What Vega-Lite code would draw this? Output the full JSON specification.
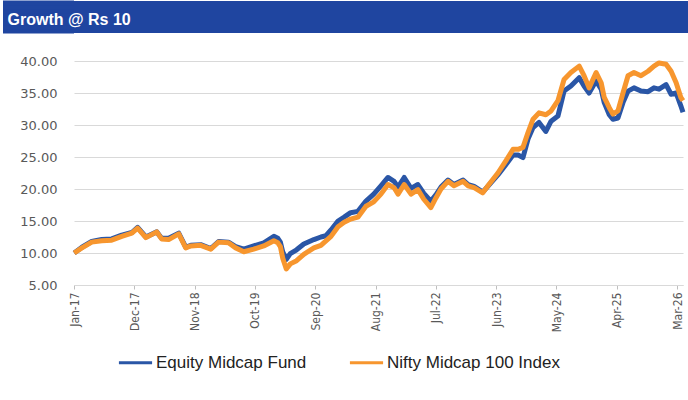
{
  "$schema": "https://vega.github.io/schema/vega-lite/v6.json",
  "padding": {"left": 0, "top": 0, "right": 0, "bottom": 0},
  "autosize": {"type": "pad"},
  "background": "white",
  "config": {"view": {"stroke": null}, "font": "Liberation Sans"},
  "spacing": 21,
  "vconcat": [
    {
      "width": 615,
      "height": 32,
      "view": {"fill": "#1F45A0", "stroke": null},
      "title": {"text": "Growth @ Rs 10", "anchor": "start", "frame": "bounds", "orient": "bottom", "offset": -9, "dx": 7, "color": "white", "font": "Liberation Sans", "fontSize": 16, "fontWeight": "bold", "baseline": "alphabetic"},
      "data": {"values": []},
      "mark": "point",
      "encoding": {
        "y": {
          "datum": 0, "type": "quantitative",
          "scale": {"domain": [-1, 1], "nice": false, "zero": false},
          "axis": {"title": null, "values": [0.875, 0.625, 0.375, 0.125, -0.125, -0.375, -0.625, -0.875], "labels": false, "domain": false, "grid": false, "tickSize": 71, "tickWidth": 5, "tickColor": "#1F45A0", "translate": 0, "minExtent": 73.5, "maxExtent": 73.5}
        }
      }
    },
    {
      "width": 609,
      "height": 224,
      "data": {"values": [
        {"date": "2017-01-02", "series": "Equity Midcap Fund", "value": 10.0},
        {"date": "2017-02-14", "series": "Equity Midcap Fund", "value": 10.9},
        {"date": "2017-04-09", "series": "Equity Midcap Fund", "value": 11.8},
        {"date": "2017-06-04", "series": "Equity Midcap Fund", "value": 12.1},
        {"date": "2017-07-29", "series": "Equity Midcap Fund", "value": 12.2},
        {"date": "2017-09-23", "series": "Equity Midcap Fund", "value": 12.8},
        {"date": "2017-11-18", "series": "Equity Midcap Fund", "value": 13.2},
        {"date": "2017-12-20", "series": "Equity Midcap Fund", "value": 14.0},
        {"date": "2018-02-04", "series": "Equity Midcap Fund", "value": 12.5},
        {"date": "2018-04-05", "series": "Equity Midcap Fund", "value": 13.3},
        {"date": "2018-05-02", "series": "Equity Midcap Fund", "value": 12.3},
        {"date": "2018-06-10", "series": "Equity Midcap Fund", "value": 12.3},
        {"date": "2018-08-05", "series": "Equity Midcap Fund", "value": 13.1},
        {"date": "2018-09-13", "series": "Equity Midcap Fund", "value": 10.9},
        {"date": "2018-10-11", "series": "Equity Midcap Fund", "value": 11.2},
        {"date": "2018-12-05", "series": "Equity Midcap Fund", "value": 11.3},
        {"date": "2019-01-30", "series": "Equity Midcap Fund", "value": 10.7},
        {"date": "2019-03-14", "series": "Equity Midcap Fund", "value": 11.8},
        {"date": "2019-05-08", "series": "Equity Midcap Fund", "value": 11.7},
        {"date": "2019-06-17", "series": "Equity Midcap Fund", "value": 11.0},
        {"date": "2019-08-01", "series": "Equity Midcap Fund", "value": 10.6},
        {"date": "2019-09-25", "series": "Equity Midcap Fund", "value": 11.1},
        {"date": "2019-11-20", "series": "Equity Midcap Fund", "value": 11.6},
        {"date": "2020-01-15", "series": "Equity Midcap Fund", "value": 12.6},
        {"date": "2020-02-06", "series": "Equity Midcap Fund", "value": 12.3},
        {"date": "2020-02-20", "series": "Equity Midcap Fund", "value": 11.7},
        {"date": "2020-03-04", "series": "Equity Midcap Fund", "value": 10.2},
        {"date": "2020-03-24", "series": "Equity Midcap Fund", "value": 9.0},
        {"date": "2020-04-15", "series": "Equity Midcap Fund", "value": 9.9},
        {"date": "2020-05-20", "series": "Equity Midcap Fund", "value": 10.5},
        {"date": "2020-06-29", "series": "Equity Midcap Fund", "value": 11.4},
        {"date": "2020-08-24", "series": "Equity Midcap Fund", "value": 12.1},
        {"date": "2020-10-02", "series": "Equity Midcap Fund", "value": 12.5},
        {"date": "2020-10-30", "series": "Equity Midcap Fund", "value": 12.7},
        {"date": "2020-11-27", "series": "Equity Midcap Fund", "value": 13.6},
        {"date": "2021-01-05", "series": "Equity Midcap Fund", "value": 15.0},
        {"date": "2021-02-08", "series": "Equity Midcap Fund", "value": 15.6},
        {"date": "2021-03-16", "series": "Equity Midcap Fund", "value": 16.3},
        {"date": "2021-04-25", "series": "Equity Midcap Fund", "value": 16.5},
        {"date": "2021-06-09", "series": "Equity Midcap Fund", "value": 18.1},
        {"date": "2021-07-22", "series": "Equity Midcap Fund", "value": 19.2},
        {"date": "2021-08-31", "series": "Equity Midcap Fund", "value": 20.5},
        {"date": "2021-10-09", "series": "Equity Midcap Fund", "value": 21.8},
        {"date": "2021-11-12", "series": "Equity Midcap Fund", "value": 21.2},
        {"date": "2021-12-04", "series": "Equity Midcap Fund", "value": 20.3},
        {"date": "2022-01-07", "series": "Equity Midcap Fund", "value": 21.8},
        {"date": "2022-02-14", "series": "Equity Midcap Fund", "value": 20.1},
        {"date": "2022-03-24", "series": "Equity Midcap Fund", "value": 20.7},
        {"date": "2022-04-26", "series": "Equity Midcap Fund", "value": 19.3},
        {"date": "2022-06-04", "series": "Equity Midcap Fund", "value": 18.1},
        {"date": "2022-07-02", "series": "Equity Midcap Fund", "value": 19.1},
        {"date": "2022-07-30", "series": "Equity Midcap Fund", "value": 20.3},
        {"date": "2022-09-07", "series": "Equity Midcap Fund", "value": 21.4},
        {"date": "2022-10-10", "series": "Equity Midcap Fund", "value": 20.7},
        {"date": "2022-11-30", "series": "Equity Midcap Fund", "value": 21.4},
        {"date": "2022-12-28", "series": "Equity Midcap Fund", "value": 20.7},
        {"date": "2023-01-30", "series": "Equity Midcap Fund", "value": 20.4},
        {"date": "2023-03-19", "series": "Equity Midcap Fund", "value": 19.5},
        {"date": "2023-04-22", "series": "Equity Midcap Fund", "value": 20.6},
        {"date": "2023-06-11", "series": "Equity Midcap Fund", "value": 22.2},
        {"date": "2023-07-25", "series": "Equity Midcap Fund", "value": 23.8},
        {"date": "2023-09-03", "series": "Equity Midcap Fund", "value": 25.3},
        {"date": "2023-10-01", "series": "Equity Midcap Fund", "value": 25.3},
        {"date": "2023-10-28", "series": "Equity Midcap Fund", "value": 24.9},
        {"date": "2023-11-25", "series": "Equity Midcap Fund", "value": 27.8},
        {"date": "2023-12-23", "series": "Equity Midcap Fund", "value": 29.6},
        {"date": "2024-01-25", "series": "Equity Midcap Fund", "value": 30.4},
        {"date": "2024-03-03", "series": "Equity Midcap Fund", "value": 29.0},
        {"date": "2024-04-01", "series": "Equity Midcap Fund", "value": 30.6},
        {"date": "2024-05-09", "series": "Equity Midcap Fund", "value": 31.4},
        {"date": "2024-06-12", "series": "Equity Midcap Fund", "value": 35.3},
        {"date": "2024-07-20", "series": "Equity Midcap Fund", "value": 36.1},
        {"date": "2024-09-04", "series": "Equity Midcap Fund", "value": 37.4},
        {"date": "2024-10-01", "series": "Equity Midcap Fund", "value": 36.1},
        {"date": "2024-10-29", "series": "Equity Midcap Fund", "value": 35.0},
        {"date": "2024-12-07", "series": "Equity Midcap Fund", "value": 36.9},
        {"date": "2025-01-04", "series": "Equity Midcap Fund", "value": 35.6},
        {"date": "2025-01-21", "series": "Equity Midcap Fund", "value": 33.5},
        {"date": "2025-02-18", "series": "Equity Midcap Fund", "value": 31.6},
        {"date": "2025-03-10", "series": "Equity Midcap Fund", "value": 30.9},
        {"date": "2025-04-07", "series": "Equity Midcap Fund", "value": 31.1},
        {"date": "2025-05-05", "series": "Equity Midcap Fund", "value": 33.5},
        {"date": "2025-06-02", "series": "Equity Midcap Fund", "value": 35.3},
        {"date": "2025-07-05", "series": "Equity Midcap Fund", "value": 35.8},
        {"date": "2025-08-13", "series": "Equity Midcap Fund", "value": 35.3},
        {"date": "2025-09-21", "series": "Equity Midcap Fund", "value": 35.2},
        {"date": "2025-10-24", "series": "Equity Midcap Fund", "value": 35.8},
        {"date": "2025-11-21", "series": "Equity Midcap Fund", "value": 35.6},
        {"date": "2025-12-30", "series": "Equity Midcap Fund", "value": 36.3},
        {"date": "2026-01-27", "series": "Equity Midcap Fund", "value": 34.8},
        {"date": "2026-02-24", "series": "Equity Midcap Fund", "value": 35.0},
        {"date": "2026-03-22", "series": "Equity Midcap Fund", "value": 33.0},
        {"date": "2026-04-03", "series": "Equity Midcap Fund", "value": 32.0},
        {"date": "2017-01-02", "series": "Nifty Midcap 100 Index", "value": 10.0},
        {"date": "2017-02-14", "series": "Nifty Midcap 100 Index", "value": 10.8},
        {"date": "2017-04-09", "series": "Nifty Midcap 100 Index", "value": 11.7},
        {"date": "2017-06-04", "series": "Nifty Midcap 100 Index", "value": 11.9},
        {"date": "2017-07-29", "series": "Nifty Midcap 100 Index", "value": 12.0},
        {"date": "2017-09-23", "series": "Nifty Midcap 100 Index", "value": 12.6},
        {"date": "2017-11-18", "series": "Nifty Midcap 100 Index", "value": 13.1},
        {"date": "2017-12-20", "series": "Nifty Midcap 100 Index", "value": 13.9},
        {"date": "2018-02-04", "series": "Nifty Midcap 100 Index", "value": 12.4},
        {"date": "2018-04-05", "series": "Nifty Midcap 100 Index", "value": 13.3},
        {"date": "2018-05-02", "series": "Nifty Midcap 100 Index", "value": 12.2},
        {"date": "2018-06-10", "series": "Nifty Midcap 100 Index", "value": 12.1},
        {"date": "2018-08-05", "series": "Nifty Midcap 100 Index", "value": 13.0},
        {"date": "2018-09-13", "series": "Nifty Midcap 100 Index", "value": 10.8},
        {"date": "2018-10-11", "series": "Nifty Midcap 100 Index", "value": 11.1},
        {"date": "2018-12-05", "series": "Nifty Midcap 100 Index", "value": 11.2},
        {"date": "2019-01-30", "series": "Nifty Midcap 100 Index", "value": 10.6},
        {"date": "2019-03-14", "series": "Nifty Midcap 100 Index", "value": 11.7},
        {"date": "2019-05-08", "series": "Nifty Midcap 100 Index", "value": 11.6},
        {"date": "2019-06-17", "series": "Nifty Midcap 100 Index", "value": 10.8},
        {"date": "2019-08-01", "series": "Nifty Midcap 100 Index", "value": 10.2},
        {"date": "2019-09-25", "series": "Nifty Midcap 100 Index", "value": 10.6},
        {"date": "2019-11-20", "series": "Nifty Midcap 100 Index", "value": 11.1},
        {"date": "2020-01-15", "series": "Nifty Midcap 100 Index", "value": 11.9},
        {"date": "2020-02-06", "series": "Nifty Midcap 100 Index", "value": 11.6},
        {"date": "2020-02-20", "series": "Nifty Midcap 100 Index", "value": 11.0},
        {"date": "2020-03-04", "series": "Nifty Midcap 100 Index", "value": 9.2},
        {"date": "2020-03-24", "series": "Nifty Midcap 100 Index", "value": 7.5},
        {"date": "2020-04-15", "series": "Nifty Midcap 100 Index", "value": 8.3},
        {"date": "2020-05-20", "series": "Nifty Midcap 100 Index", "value": 8.8},
        {"date": "2020-06-29", "series": "Nifty Midcap 100 Index", "value": 9.8},
        {"date": "2020-08-24", "series": "Nifty Midcap 100 Index", "value": 10.8},
        {"date": "2020-10-02", "series": "Nifty Midcap 100 Index", "value": 11.2},
        {"date": "2020-10-30", "series": "Nifty Midcap 100 Index", "value": 11.9},
        {"date": "2020-11-27", "series": "Nifty Midcap 100 Index", "value": 12.6},
        {"date": "2021-01-05", "series": "Nifty Midcap 100 Index", "value": 14.1},
        {"date": "2021-02-08", "series": "Nifty Midcap 100 Index", "value": 14.8},
        {"date": "2021-03-16", "series": "Nifty Midcap 100 Index", "value": 15.3},
        {"date": "2021-04-25", "series": "Nifty Midcap 100 Index", "value": 15.6},
        {"date": "2021-06-09", "series": "Nifty Midcap 100 Index", "value": 17.3},
        {"date": "2021-07-22", "series": "Nifty Midcap 100 Index", "value": 18.0},
        {"date": "2021-08-31", "series": "Nifty Midcap 100 Index", "value": 19.2},
        {"date": "2021-10-09", "series": "Nifty Midcap 100 Index", "value": 20.7},
        {"date": "2021-11-12", "series": "Nifty Midcap 100 Index", "value": 20.2},
        {"date": "2021-12-04", "series": "Nifty Midcap 100 Index", "value": 19.2},
        {"date": "2022-01-07", "series": "Nifty Midcap 100 Index", "value": 20.7},
        {"date": "2022-02-14", "series": "Nifty Midcap 100 Index", "value": 19.2},
        {"date": "2022-03-24", "series": "Nifty Midcap 100 Index", "value": 19.9},
        {"date": "2022-04-26", "series": "Nifty Midcap 100 Index", "value": 18.4},
        {"date": "2022-06-04", "series": "Nifty Midcap 100 Index", "value": 17.1},
        {"date": "2022-07-02", "series": "Nifty Midcap 100 Index", "value": 18.6},
        {"date": "2022-07-30", "series": "Nifty Midcap 100 Index", "value": 20.0},
        {"date": "2022-09-07", "series": "Nifty Midcap 100 Index", "value": 21.2},
        {"date": "2022-10-10", "series": "Nifty Midcap 100 Index", "value": 20.5},
        {"date": "2022-11-30", "series": "Nifty Midcap 100 Index", "value": 21.2},
        {"date": "2022-12-28", "series": "Nifty Midcap 100 Index", "value": 20.5},
        {"date": "2023-01-30", "series": "Nifty Midcap 100 Index", "value": 20.2},
        {"date": "2023-03-19", "series": "Nifty Midcap 100 Index", "value": 19.4},
        {"date": "2023-04-22", "series": "Nifty Midcap 100 Index", "value": 20.7},
        {"date": "2023-06-11", "series": "Nifty Midcap 100 Index", "value": 22.5},
        {"date": "2023-07-25", "series": "Nifty Midcap 100 Index", "value": 24.4},
        {"date": "2023-09-03", "series": "Nifty Midcap 100 Index", "value": 26.2},
        {"date": "2023-10-01", "series": "Nifty Midcap 100 Index", "value": 26.2},
        {"date": "2023-10-28", "series": "Nifty Midcap 100 Index", "value": 26.5},
        {"date": "2023-11-25", "series": "Nifty Midcap 100 Index", "value": 28.8},
        {"date": "2023-12-23", "series": "Nifty Midcap 100 Index", "value": 30.9},
        {"date": "2024-01-25", "series": "Nifty Midcap 100 Index", "value": 31.9},
        {"date": "2024-03-03", "series": "Nifty Midcap 100 Index", "value": 31.6},
        {"date": "2024-04-01", "series": "Nifty Midcap 100 Index", "value": 32.2},
        {"date": "2024-05-09", "series": "Nifty Midcap 100 Index", "value": 33.8},
        {"date": "2024-06-12", "series": "Nifty Midcap 100 Index", "value": 37.1},
        {"date": "2024-07-20", "series": "Nifty Midcap 100 Index", "value": 38.2},
        {"date": "2024-09-04", "series": "Nifty Midcap 100 Index", "value": 39.2},
        {"date": "2024-10-01", "series": "Nifty Midcap 100 Index", "value": 37.7},
        {"date": "2024-10-29", "series": "Nifty Midcap 100 Index", "value": 35.8},
        {"date": "2024-12-07", "series": "Nifty Midcap 100 Index", "value": 38.2},
        {"date": "2025-01-04", "series": "Nifty Midcap 100 Index", "value": 36.6},
        {"date": "2025-01-21", "series": "Nifty Midcap 100 Index", "value": 34.3},
        {"date": "2025-02-18", "series": "Nifty Midcap 100 Index", "value": 32.7},
        {"date": "2025-03-10", "series": "Nifty Midcap 100 Index", "value": 31.7},
        {"date": "2025-04-07", "series": "Nifty Midcap 100 Index", "value": 32.2},
        {"date": "2025-05-05", "series": "Nifty Midcap 100 Index", "value": 35.0},
        {"date": "2025-06-02", "series": "Nifty Midcap 100 Index", "value": 37.7},
        {"date": "2025-07-05", "series": "Nifty Midcap 100 Index", "value": 38.2},
        {"date": "2025-08-13", "series": "Nifty Midcap 100 Index", "value": 37.7},
        {"date": "2025-09-21", "series": "Nifty Midcap 100 Index", "value": 38.4},
        {"date": "2025-10-24", "series": "Nifty Midcap 100 Index", "value": 39.2},
        {"date": "2025-11-21", "series": "Nifty Midcap 100 Index", "value": 39.7},
        {"date": "2025-12-30", "series": "Nifty Midcap 100 Index", "value": 39.5},
        {"date": "2026-01-27", "series": "Nifty Midcap 100 Index", "value": 38.4},
        {"date": "2026-02-24", "series": "Nifty Midcap 100 Index", "value": 36.6},
        {"date": "2026-03-22", "series": "Nifty Midcap 100 Index", "value": 34.3},
        {"date": "2026-04-03", "series": "Nifty Midcap 100 Index", "value": 33.8}
      ]},
      "mark": {"type": "line", "strokeWidth": 5, "strokeJoin": "round"},
      "encoding": {
        "x": {
          "field": "date", "type": "temporal",
          "scale": {"type": "utc", "domain": [{"year": 2017, "month": 1, "date": 1, "utc": true}, {"year": 2026, "month": 4, "date": 3, "utc": true}], "nice": false},
          "axis": {
            "title": null, "grid": false, "format": "%b-%y", "labelAngle": -90,
            "values": [
              {"year": 2017, "month": 1, "date": 1, "utc": true},
              {"year": 2017, "month": 12, "date": 1, "utc": true},
              {"year": 2018, "month": 11, "date": 1, "utc": true},
              {"year": 2019, "month": 10, "date": 1, "utc": true},
              {"year": 2020, "month": 9, "date": 1, "utc": true},
              {"year": 2021, "month": 8, "date": 1, "utc": true},
              {"year": 2022, "month": 7, "date": 1, "utc": true},
              {"year": 2023, "month": 6, "date": 1, "utc": true},
              {"year": 2024, "month": 5, "date": 1, "utc": true},
              {"year": 2025, "month": 4, "date": 1, "utc": true},
              {"year": 2026, "month": 3, "date": 1, "utc": true}
            ],
            "domainColor": "#d9d9d9", "tickColor": "#bfbfbf", "tickSize": 4,
            "labelFont": "DejaVu Sans Condensed", "labelFontSize": 12, "labelColor": "#595959",
            "labelPadding": 3, "labelFlush": false, "labelOverlap": false, "labelBound": false
          }
        },
        "y": {
          "field": "value", "type": "quantitative",
          "scale": {"domain": [5, 40], "nice": false, "zero": false},
          "axis": {
            "title": null, "values": [5, 10, 15, 20, 25, 30, 35, 40], "format": ".2f",
            "domain": false, "ticks": false, "labelPadding": 17, "minExtent": 73.5, "maxExtent": 73.5,
            "labelFont": "DejaVu Sans", "labelFontSize": 13, "labelColor": "#595959",
            "gridColor": "#d9d9d9", "gridWidth": 1
          }
        },
        "color": {
          "field": "series", "type": "nominal",
          "scale": {"domain": ["Equity Midcap Fund", "Nifty Midcap 100 Index"], "range": ["#2A56A6", "#F7962E"]},
          "legend": {
            "title": null, "orient": "none", "legendX": 43, "legendY": 343, "direction": "horizontal",
            "symbolType": "stroke", "symbolSize": 1100, "symbolStrokeWidth": 3,
            "labelFont": "Liberation Sans", "labelFontSize": 17, "labelColor": "#222222", "labelLimit": 400,
            "columnPadding": 36, "labelOffset": 2
          }
        }
      }
    }
  ]
}
